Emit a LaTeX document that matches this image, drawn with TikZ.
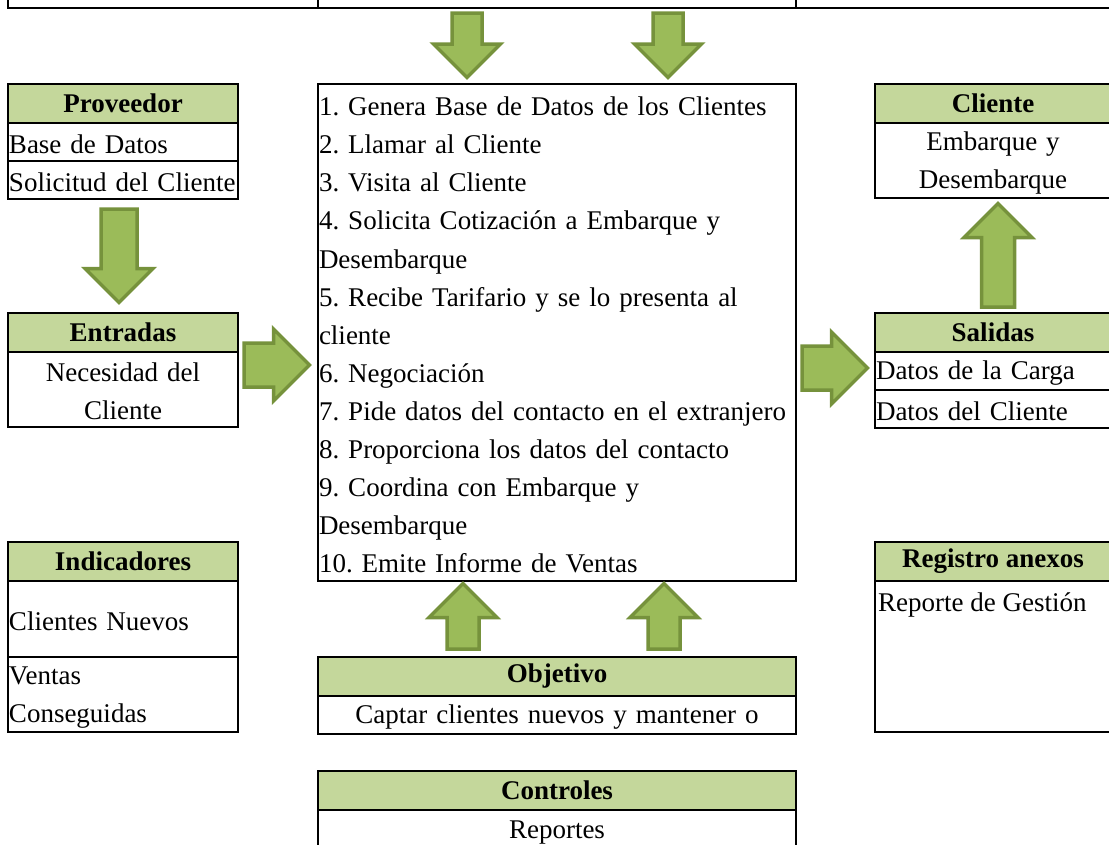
\documentclass[tikz,border=0pt]{standalone}
\usepackage{fontspec}
\setmainfont{Liberation Serif}
\usetikzlibrary{positioning, calc, shapes.arrows}
\definecolor{hdrgreen}{HTML}{C4D79B}
\definecolor{arrfill}{HTML}{9BBB59}
\definecolor{arrline}{HTML}{76923C}
\frenchspacing

\begin{document}
\begin{tikzpicture}[x=1pt, y=-1pt,
    node distance=0pt,
    font=\fontsize{27}{38.1}\selectfont,
    hdr/.style={draw, line width=2pt, fill=hdrgreen,
      font=\fontsize{27}{38.1}\selectfont\bfseries, minimum width=#1,
      minimum height=39pt, inner sep=0pt, outer sep=0pt},
    cell/.style={draw, line width=2pt, minimum width=#1, minimum height=38pt,
      inner sep=0pt, outer sep=0pt},
    lcell/.style={draw, line width=2pt, text width=#1, minimum height=38pt,
      inner xsep=1pt, inner ysep=0pt, outer sep=0pt, align=left,
      execute at begin node={\rule{0pt}{24pt}}},
    ccell/.style={lcell=#1, align=center},
    blk/.style={single arrow, draw=arrline, fill=arrfill, line width=3.5pt,
      inner xsep=0pt, outer sep=0pt, single arrow tip angle=90, anchor=tip}
  ]
  \useasboundingbox (0,0) rectangle (1109,844);

  % row cut off at the top
  \node[cell=310pt, minimum height=40pt] (topa) at (163,-12) {};
  \node[cell=478pt, minimum height=40pt] (topb) at (557,-12) {};
  \node[cell=315pt, minimum height=40pt] (topc) at (953.5,-12) {};

  % left column
  \node[hdr=230pt] (prov) at (123,103.5) {Proveedor};
  \node[lcell=228pt, below=of prov] (provA) {Base de Datos};
  \node[lcell=228pt, below=of provA] (provB) {Solicitud del Cliente};

  \node[hdr=230pt] (entr) at (123,332) {Entradas};
  \node[ccell=228pt, minimum height=75pt, below=of entr] (entrA)
    {Necesidad del\\Cliente};

  \node[hdr=230pt] (ind) at (123,561.5) {Indicadores};
  \node[lcell=228pt, minimum height=76pt, below=of ind] (indA) {Clientes Nuevos};
  \node[lcell=228pt, minimum height=75pt, below=of indA] (indB)
    {Ventas\\Conseguidas};

  % process
  \node[lcell=476pt, minimum height=497pt] (main) at (557,332.5)
    {1. Genera Base de Datos de los Clientes\\
     2. Llamar al Cliente\\
     3. Visita al Cliente\\
     4. Solicita Cotización a Embarque y\\
     Desembarque\\
     5. Recibe Tarifario y se lo presenta al\\
     cliente\\
     6. Negociación\\
     7. Pide datos del contacto en el extranjero\\
     8. Proporciona los datos del contacto\\
     9. Coordina con Embarque y\\
     Desembarque\\
     10. Emite Informe de Ventas};

  \node[hdr=478pt] (obj) at (557,676) {Objetivo};
  \node[ccell=476pt, below=of obj] (objA) {Captar clientes nuevos y mantener o};

  \node[hdr=478pt] (ctrl) at (557,790.5) {Controles};
  \node[ccell=476pt, minimum height=39pt, below=of ctrl] (ctrlA) {Reportes};

  % right column
  \node[hdr=236pt] (cli) at (993,103.5) {Cliente};
  \node[ccell=234pt, minimum height=75pt, below=of cli] (cliA)
    {Embarque y\\Desembarque};

  \node[hdr=236pt] (sal) at (993,332) {Salidas};
  \node[lcell=234pt, below=of sal] (salA) {Datos de la Carga};
  \node[lcell=234pt, below=of salA] (salB) {Datos del Cliente};

  \node[hdr=236pt] (reg) at (993,561.5) {Registro anexos};
  \node[cell=236pt, minimum height=151pt, below=of reg] (regA) {};
  \node[anchor=base west, inner sep=0pt] (regtxt)
    at ($(regA.north west)+(3,30)$) {Reporte de Gestión};

  % block arrows
  \node[blk, rotate=-90, minimum height=64.5pt, inner ysep=13.25pt,
    single arrow head extend=18.5pt] (inA) at ($(main.north)+(-90,-6.5)$) {};
  \node[blk, rotate=-90, minimum height=64.5pt, inner ysep=13.25pt,
    single arrow head extend=18.5pt] (inB) at ($(main.north)+(111,-6.5)$) {};
  \node[blk, rotate=-90, minimum height=93.5pt, inner ysep=16.25pt,
    single arrow head extend=16pt] (provDown) at ($(entr.north)+(-4,-10)$) {};
  \node[blk, minimum height=65.5pt, inner ysep=20.25pt,
    single arrow head extend=14pt] (entrRight) at ($(main.west)+(-8.5,32.5)$) {};
  \node[blk, minimum height=65.5pt, inner ysep=20.25pt,
    single arrow head extend=14pt] (salRight) at ($(salA.west)+(-7.5,-2.5)$) {};
  \node[blk, rotate=90, minimum height=103.5pt, inner ysep=14.75pt,
    single arrow head extend=17.5pt] (cliUp) at ($(cliA.south)+(5,5.5)$) {};
  \node[blk, rotate=90, minimum height=65.5pt, inner ysep=14.25pt,
    single arrow head extend=18pt] (objUpA) at ($(main.south)+(-94,2.5)$) {};
  \node[blk, rotate=90, minimum height=65.5pt, inner ysep=14.25pt,
    single arrow head extend=18pt] (objUpB) at ($(main.south)+(107,2.5)$) {};
\end{tikzpicture}
\end{document}
